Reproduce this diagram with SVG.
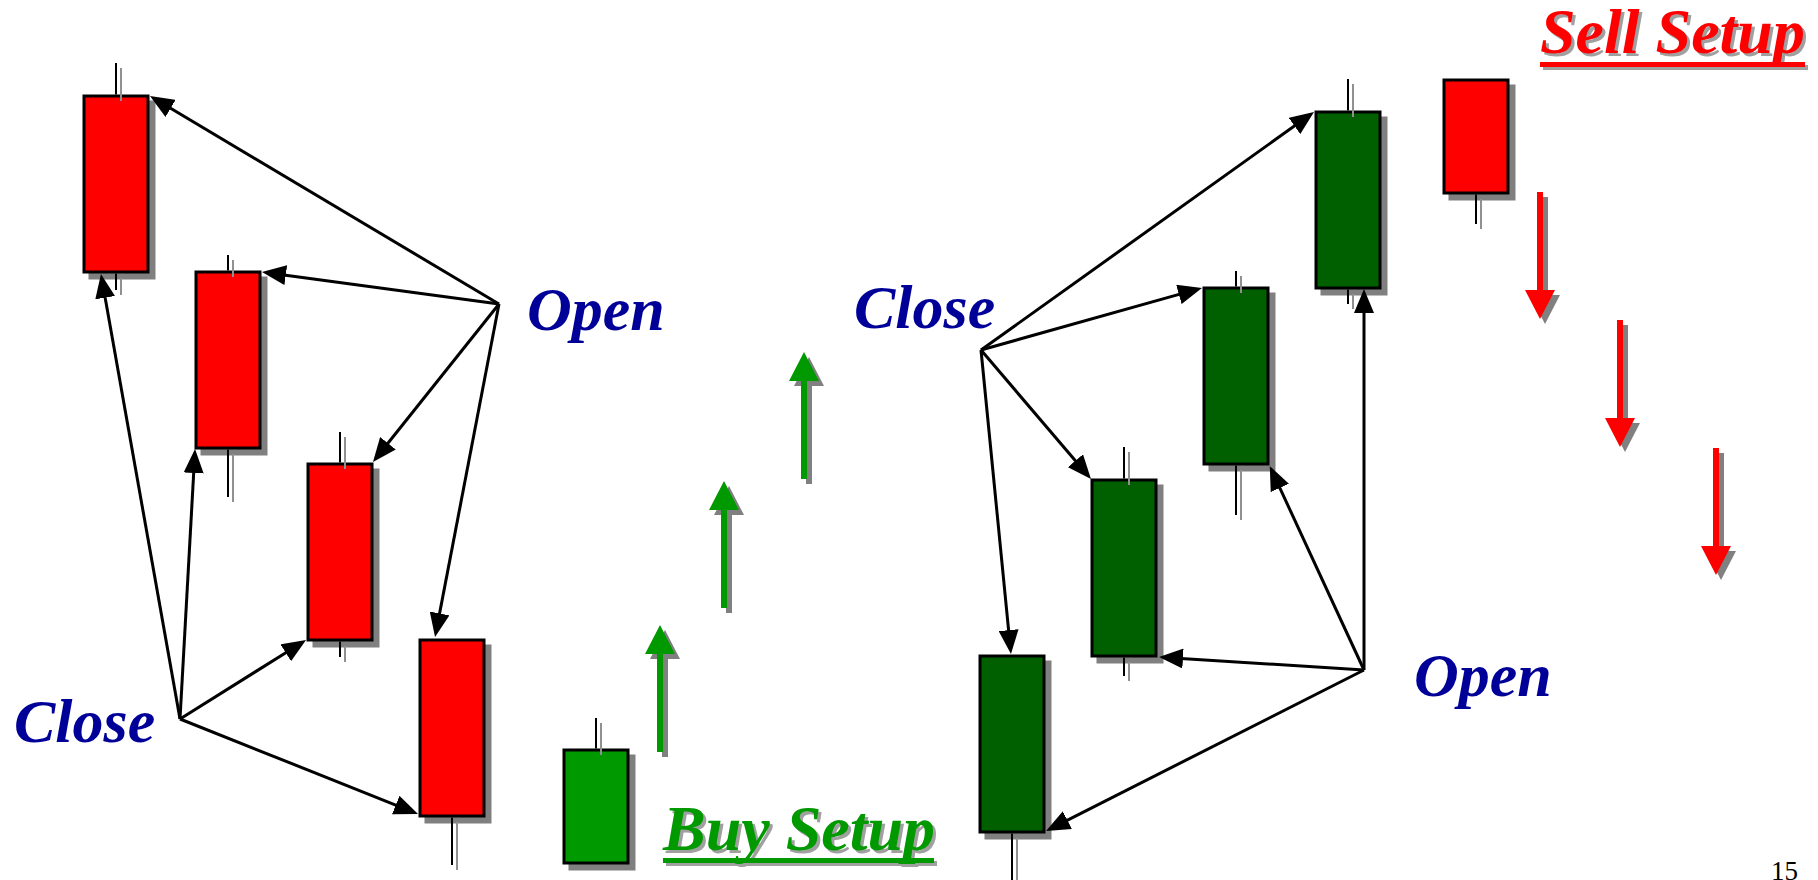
<svg xmlns="http://www.w3.org/2000/svg" xmlns:xlink="http://www.w3.org/1999/xlink" width="1818" height="880" viewBox="0 0 1818 880">
<style>
.sh{fill:#808080;stroke:#808080;stroke-width:3}
.red{fill:#FF0000;stroke:#000;stroke-width:3}
.dg{fill:#006000;stroke:#000;stroke-width:3}
.lg{fill:#009900;stroke:#000;stroke-width:3}
.w{stroke:#000;stroke-width:2}
.ws{stroke:#909090;stroke-width:2}
.lbl{font-family:"Liberation Serif","Times New Roman",serif;font-weight:bold;font-style:italic;font-size:62px;fill:#000099}
.setup{font-family:"Liberation Serif","Times New Roman",serif;font-weight:bold;font-style:italic;font-size:64px}
.conn line{stroke:#000;stroke-width:3;marker-end:url(#ah)}
</style>
<defs>
<marker id="ah" viewBox="0 0 24 20" refX="2" refY="10" markerWidth="24" markerHeight="20" markerUnits="userSpaceOnUse" orient="auto">
<path d="M0,0 L24,10 L0,20 Z" fill="#000"/>
</marker>
<path id="up" d="M-3,127 V29 H-15 L0,0 L15,29 H3 V127 Z"/>
<path id="down" d="M-3,0 V98 H-15 L0,127 L15,98 H3 V0 Z"/>
</defs>
<rect width="1818" height="880" fill="#fff"/>

<!-- left red candles -->
<g id="c1">
<rect class="sh" x="90" y="102" width="64" height="176"/>
<rect class="red" x="84" y="96" width="64" height="176"/>
<line class="ws" x1="121" y1="68" x2="121" y2="101"/><line class="ws" x1="121" y1="278" x2="121" y2="295"/>
<line class="w" x1="116" y1="63" x2="116" y2="94.5"/><line class="w" x1="116" y1="273.5" x2="116" y2="290"/>
</g>
<g id="c2">
<rect class="sh" x="202" y="278" width="64" height="176"/>
<rect class="red" x="196" y="272" width="64" height="176"/>
<line class="ws" x1="233" y1="260" x2="233" y2="277"/><line class="ws" x1="233" y1="454" x2="233" y2="502"/>
<line class="w" x1="228" y1="255" x2="228" y2="270.5"/><line class="w" x1="228" y1="449.5" x2="228" y2="497"/>
</g>
<g id="c3">
<rect class="sh" x="314" y="470" width="64" height="176"/>
<rect class="red" x="308" y="464" width="64" height="176"/>
<line class="ws" x1="345" y1="437" x2="345" y2="469"/><line class="ws" x1="345" y1="646" x2="345" y2="662"/>
<line class="w" x1="340" y1="432" x2="340" y2="462.5"/><line class="w" x1="340" y1="641.5" x2="340" y2="657"/>
</g>
<g id="c4">
<rect class="sh" x="426" y="646" width="64" height="176"/>
<rect class="red" x="420" y="640" width="64" height="176"/>
<line class="ws" x1="457" y1="822" x2="457" y2="870"/>
<line class="w" x1="452" y1="817.5" x2="452" y2="865"/>
</g>
<g id="buy-candle">
<rect class="sh" x="570" y="756" width="64" height="113"/>
<rect class="lg" x="564" y="750" width="64" height="113"/>
<line class="ws" x1="601" y1="723" x2="601" y2="755"/>
<line class="w" x1="596" y1="718" x2="596" y2="748.5"/>
</g>

<!-- right dark green candles -->
<g id="g4">
<rect class="sh" x="986" y="662" width="64" height="176"/>
<rect class="dg" x="980" y="656" width="64" height="176"/>
<line class="ws" x1="1017" y1="838" x2="1017" y2="885"/>
<line class="w" x1="1012" y1="833.5" x2="1012" y2="880"/>
</g>
<g id="g3">
<rect class="sh" x="1098" y="486" width="64" height="176"/>
<rect class="dg" x="1092" y="480" width="64" height="176"/>
<line class="ws" x1="1129" y1="452" x2="1129" y2="485"/><line class="ws" x1="1129" y1="662" x2="1129" y2="681"/>
<line class="w" x1="1124" y1="447" x2="1124" y2="478.5"/><line class="w" x1="1124" y1="657.5" x2="1124" y2="676"/>
</g>
<g id="g2">
<rect class="sh" x="1210" y="294" width="64" height="176"/>
<rect class="dg" x="1204" y="288" width="64" height="176"/>
<line class="ws" x1="1241" y1="276" x2="1241" y2="293"/><line class="ws" x1="1241" y1="470" x2="1241" y2="520"/>
<line class="w" x1="1236" y1="271" x2="1236" y2="286.5"/><line class="w" x1="1236" y1="465.5" x2="1236" y2="515"/>
</g>
<g id="g1">
<rect class="sh" x="1322" y="118" width="64" height="176"/>
<rect class="dg" x="1316" y="112" width="64" height="176"/>
<line class="ws" x1="1353" y1="84" x2="1353" y2="117"/><line class="ws" x1="1353" y1="294" x2="1353" y2="309"/>
<line class="w" x1="1348" y1="79" x2="1348" y2="110.5"/><line class="w" x1="1348" y1="289.5" x2="1348" y2="304"/>
</g>
<g id="sell-candle">
<rect class="sh" x="1450" y="86" width="64" height="113"/>
<rect class="red" x="1444" y="80" width="64" height="113"/>
<line class="ws" x1="1481" y1="199" x2="1481" y2="229"/>
<line class="w" x1="1476" y1="194.5" x2="1476" y2="224"/>
</g>

<!-- connectors -->
<g id="connectors" class="conn">
<line x1="499" y1="304" x2="168.9" y2="107.3"/>
<line x1="499" y1="304" x2="283.8" y2="274.9"/>
<line x1="499" y1="304" x2="386.7" y2="444.8"/>
<line x1="499" y1="304" x2="439.2" y2="615.4"/>
<line x1="180" y1="719" x2="104.8" y2="295.7"/>
<line x1="180" y1="719" x2="193.8" y2="471"/>
<line x1="180" y1="719" x2="287.4" y2="651.7"/>
<line x1="180" y1="719" x2="397.6" y2="805.8"/>
<line x1="981" y1="350" x2="1296.1" y2="124.8"/>
<line x1="981" y1="350" x2="1180.8" y2="293.9"/>
<line x1="981" y1="350" x2="1076.7" y2="462.3"/>
<line x1="981" y1="350" x2="1008.8" y2="632.1"/>
<line x1="1364" y1="670" x2="1364" y2="311"/>
<line x1="1364" y1="670" x2="1279" y2="486.1"/>
<line x1="1364" y1="670" x2="1181" y2="658.4"/>
<line x1="1364" y1="670" x2="1065.6" y2="821.1"/>
</g>

<!-- labels -->
<g id="open-left"><text class="lbl" x="527" y="330">Open</text></g>
<g id="close-left"><text class="lbl" x="14" y="742">Close</text></g>
<g id="close-right"><text class="lbl" x="854" y="328">Close</text></g>
<g id="open-right"><text class="lbl" x="1414" y="696">Open</text></g>

<!-- buy arrows -->
<g id="buy-arrows">
<use href="#up" x="665" y="630" fill="#808080"/>
<use href="#up" x="729" y="486" fill="#808080"/>
<use href="#up" x="809" y="357" fill="#808080"/>
<use href="#up" x="660" y="625" fill="#009900"/>
<use href="#up" x="724" y="481" fill="#009900"/>
<use href="#up" x="804" y="352" fill="#009900"/>
</g>

<!-- sell arrows -->
<g id="sell-arrows">
<use href="#down" x="1545" y="197" fill="#808080"/>
<use href="#down" x="1625" y="325" fill="#808080"/>
<use href="#down" x="1721" y="453" fill="#808080"/>
<use href="#down" x="1540" y="192" fill="#FF0000"/>
<use href="#down" x="1620" y="320" fill="#FF0000"/>
<use href="#down" x="1716" y="448" fill="#FF0000"/>
</g>

<!-- titles -->
<g id="buy-setup">
<text class="setup" x="666" y="853" fill="#a0a0a0">Buy Setup</text>
<rect x="666" y="861" width="271" height="5" fill="#a0a0a0"/>
<text class="setup" x="663" y="850" fill="#009900">Buy Setup</text>
<rect x="663" y="858" width="271" height="5" fill="#009900"/>
</g>
<g id="sell-setup">
<text class="setup" x="1543" y="56" fill="#a0a0a0">Sell Setup</text>
<rect x="1543" y="65" width="265" height="5" fill="#a0a0a0"/>
<text class="setup" x="1540" y="53" fill="#FF0000">Sell Setup</text>
<rect x="1540" y="62" width="265" height="5" fill="#FF0000"/>
</g>

<text x="1771" y="880" font-family="Liberation Serif, serif" font-size="27" fill="#000">15</text>
</svg>
